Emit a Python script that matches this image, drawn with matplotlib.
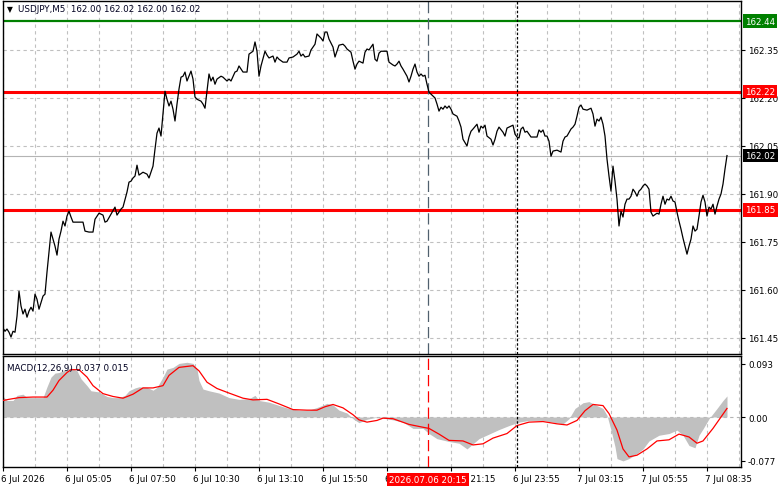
import matplotlib
matplotlib.use('Agg')
import matplotlib.pyplot as plt
import matplotlib.transforms as mtransforms

plt.rcParams['font.family'] = ['DejaVu Sans']

# price data: bar index (5 min bars from 6 Jul 00:00) and close price
price_bar = [
    0, 1, 2, 3, 4, 5, 6, 7, 8, 9, 10, 11, 12, 13, 14, 15, 16, 17, 18, 20,
    21, 22, 23, 24, 25, 26, 27, 28, 29, 30, 31, 32, 33, 34, 35, 37, 40, 41, 43, 45,
    46, 48, 50, 51, 52, 54, 56, 57, 59, 60, 62, 63, 64, 65, 66, 67, 68, 70, 72, 73,
    74, 75, 76, 77, 78, 79, 80, 81, 82, 83, 84, 85, 86, 87, 88, 89, 90, 91, 92, 94,
    95, 96, 97, 99, 100, 101, 102, 103, 104, 105, 106, 107, 109, 110, 112, 113, 114, 116, 117, 118,
    120, 122, 123, 125, 126, 127, 128, 129, 131, 132, 133, 135, 136, 137, 138, 140, 142, 143, 145, 147,
    148, 149, 150, 151, 153, 154, 156, 157, 159, 160, 161, 162, 163, 165, 166, 167, 168, 170, 171, 172,
    174, 175, 176, 177, 178, 180, 181, 182, 183, 184, 185, 186, 187, 188, 189, 192, 193, 195, 196, 197,
    198, 199, 200, 202, 203, 204, 205, 206, 207, 208, 209, 210, 211, 212, 213, 215, 216, 217, 218, 219,
    220, 221, 222, 223, 224, 225, 227, 228, 229, 230, 232, 233, 234, 235, 237, 238, 239, 240, 241, 242,
    244, 245, 246, 247, 248, 250, 251, 252, 254, 255, 256, 257, 258, 259, 260, 261, 262, 264, 267, 268,
    269, 270, 271, 272, 273, 274, 275, 277, 279, 280, 281, 282, 284, 285, 286, 287, 288, 289, 290, 292,
    294, 295, 296, 297, 298, 299, 300, 301, 302, 303, 304, 305, 306, 307, 308, 309, 310, 311, 312, 313,
    314, 315, 316, 317, 318, 319, 320, 321, 322, 323, 324, 325, 327, 328, 329, 330, 331, 332, 333, 334,
    335, 336, 337, 338, 339, 340, 341, 342, 343, 344, 345, 346, 347, 348, 349, 350, 351, 352, 353, 354,
    355, 356, 357, 358, 359, 360, 361, 362,
]
price_close = [
    161.481, 161.471, 161.478, 161.468, 161.453, 161.471, 161.468, 161.518, 161.596, 161.550,
    161.525, 161.540, 161.515, 161.534, 161.546, 161.534, 161.587, 161.571, 161.540, 161.581,
    161.587, 161.656, 161.718, 161.781, 161.759, 161.737, 161.709, 161.759, 161.784, 161.815,
    161.800, 161.831, 161.846, 161.828, 161.812, 161.812, 161.812, 161.784, 161.781, 161.781,
    161.821, 161.840, 161.834, 161.812, 161.815, 161.837, 161.859, 161.834, 161.853, 161.859,
    161.906, 161.937, 161.940, 161.950, 161.956, 161.990, 161.959, 161.968, 161.962, 161.950,
    161.968, 161.987, 162.040, 162.090, 162.106, 162.081, 162.150, 162.221, 162.196, 162.175,
    162.190, 162.165, 162.128, 162.181, 162.228, 162.265, 162.268, 162.281, 162.253, 162.284,
    162.259, 162.203, 162.196, 162.190, 162.181, 162.168, 162.221, 162.275, 162.253, 162.265,
    162.243, 162.259, 162.268, 162.265, 162.253, 162.259, 162.253, 162.281, 162.284, 162.300,
    162.281, 162.281, 162.337, 162.346, 162.375, 162.346, 162.268, 162.300, 162.346, 162.334,
    162.325, 162.331, 162.312, 162.328, 162.321, 162.312, 162.312, 162.325, 162.328, 162.337,
    162.346, 162.331, 162.337, 162.328, 162.331, 162.350, 162.368, 162.400, 162.387, 162.378,
    162.406, 162.406, 162.384, 162.359, 162.328, 162.346, 162.365, 162.368, 162.362, 162.353,
    162.343, 162.315, 162.290, 162.306, 162.315, 162.309, 162.343, 162.353, 162.350, 162.359,
    162.368, 162.321, 162.315, 162.340, 162.346, 162.346, 162.312, 162.303, 162.300, 162.306,
    162.315, 162.300, 162.290, 162.268, 162.250, 162.268, 162.290, 162.306, 162.281, 162.268,
    162.275, 162.268, 162.271, 162.243, 162.218, 162.206, 162.200, 162.181, 162.159, 162.171,
    162.165, 162.175, 162.168, 162.175, 162.165, 162.150, 162.143, 162.128, 162.109, 162.071,
    162.050, 162.078, 162.096, 162.103, 162.118, 162.093, 162.112, 162.106, 162.115, 162.081,
    162.071, 162.053, 162.071, 162.096, 162.109, 162.093, 162.081, 162.106, 162.112, 162.115,
    162.087, 162.078, 162.075, 162.103, 162.109, 162.093, 162.096, 162.078, 162.078, 162.100,
    162.093, 162.100, 162.081, 162.081, 162.065, 162.018, 162.034, 162.037, 162.031, 162.065,
    162.078, 162.081, 162.103, 162.109, 162.118, 162.143, 162.171, 162.178, 162.165, 162.162,
    162.168, 162.150, 162.112, 162.134, 162.128, 162.140, 162.118, 162.081, 162.009, 161.956,
    161.909, 161.987, 161.940, 161.884, 161.800, 161.846, 161.828, 161.868, 161.884, 161.884,
    161.893, 161.915, 161.906, 161.893, 161.909, 161.915, 161.925, 161.931, 161.925, 161.915,
    161.843, 161.831, 161.840, 161.837, 161.868, 161.893, 161.868, 161.884, 161.881, 161.893,
    161.878, 161.875, 161.843, 161.815, 161.790, 161.762, 161.737, 161.712, 161.737, 161.759,
    161.800, 161.784, 161.790, 161.831, 161.875, 161.896, 161.875, 161.831, 161.859, 161.853,
    161.868, 161.837, 161.862, 161.884, 161.900, 161.931, 161.978, 162.020,
]

# MACD(12,26,9) main (histogram) and signal
macd_bar = [
    0, 2, 5, 7, 10, 12, 20, 22, 24, 26, 28, 32, 34, 37, 39, 42, 44, 48, 52, 55,
    58, 61, 63, 66, 68, 72, 75, 77, 80, 82, 85, 88, 92, 95, 97, 98, 100, 103, 108, 113,
    118, 123, 126, 128, 133, 140, 143, 148, 153, 158, 162, 165, 168, 172, 175, 178, 182, 186, 190, 195,
    200, 205, 210, 213, 217, 223, 228, 232, 235, 238, 243, 248, 253, 258, 263, 270, 275, 280, 283, 286,
    290, 293, 297, 300, 302, 304, 306, 307, 310, 313, 317, 320, 323, 328, 333, 337, 340, 343, 346, 348,
    350, 353, 357, 360, 362,
]
macd_main = [
    0.036, 0.029, 0.029, 0.038, 0.040, 0.034, 0.034, 0.053, 0.070, 0.077,
    0.078, 0.084, 0.086, 0.081, 0.067, 0.055, 0.046, 0.044, 0.036, 0.034,
    0.034, 0.038, 0.046, 0.051, 0.053, 0.052, 0.047, 0.052, 0.070, 0.084,
    0.087, 0.094, 0.096, 0.094, 0.084, 0.064, 0.049, 0.046, 0.042, 0.034,
    0.031, 0.032, 0.038, 0.029, 0.026, 0.018, 0.015, 0.012, 0.012, 0.018,
    0.024, 0.021, 0.012, 0.007, -0.003, -0.010, -0.004, -0.001, -0.002, -0.005,
    -0.009, -0.020, -0.020, -0.029, -0.038, -0.043, -0.046, -0.056, -0.047, -0.038,
    -0.030, -0.022, -0.015, -0.009, -0.006, -0.006, -0.009, -0.012, -0.003, 0.015,
    0.025, 0.027, 0.020, 0.015, 0.003, -0.023, -0.052, -0.073, -0.077, -0.073,
    -0.064, -0.056, -0.042, -0.032, -0.029, -0.023, -0.032, -0.050, -0.054, -0.032,
    -0.021, -0.003, 0.015, 0.029, 0.037,
]
signal_bar = [
    0, 3, 8, 15, 22, 25, 28, 32, 34, 38, 42, 45, 50, 55, 60, 65, 70, 75, 80, 83,
    88, 95, 98, 102, 107, 113, 120, 125, 132, 138, 145, 152, 157, 161, 165, 170, 175, 178, 182, 187,
    190, 195, 203, 210, 213, 218, 223, 230, 235, 240, 245, 252, 257, 263, 270, 277, 282, 287, 291, 295,
    300, 303, 307, 310, 313, 317, 322, 327, 333, 338, 343, 347, 350, 355, 362,
]
signal_val = [
    0.029, 0.031, 0.034, 0.035, 0.035, 0.047, 0.064, 0.078, 0.083, 0.083,
    0.070, 0.055, 0.041, 0.036, 0.033, 0.040, 0.051, 0.051, 0.055, 0.073,
    0.087, 0.090, 0.081, 0.061, 0.050, 0.042, 0.033, 0.030, 0.031, 0.023,
    0.013, 0.012, 0.012, 0.018, 0.022, 0.016, 0.004, -0.005, -0.009, -0.006,
    -0.002, -0.003, -0.013, -0.018, -0.020, -0.030, -0.041, -0.042, -0.049, -0.047,
    -0.037, -0.029, -0.015, -0.009, -0.008, -0.012, -0.014, -0.006, 0.011, 0.022,
    0.020, 0.006, -0.023, -0.056, -0.070, -0.067, -0.056, -0.042, -0.040, -0.030,
    -0.035, -0.046, -0.042, -0.020, 0.015,
]

x_tick_labels = ['6 Jul 2026', '6 Jul 05:05', '6 Jul 07:50', '6 Jul 10:30', '6 Jul 13:10',
                 '6 Jul 15:50', '6 Jul 18:30', '6 Jul 21:15', '6 Jul 23:55', '7 Jul 03:15',
                 '7 Jul 05:55', '7 Jul 08:35']
price_ticks = [161.45, 161.60, 161.75, 161.90, 162.05, 162.20, 162.35]

resistance = 162.44
level_hi = 162.22
level_lo = 161.85
last_price = 162.02
cursor_bar = 212.5
cursor_label = '2026.07.06 20:15'
day_break_bar = 257

grid_kw = dict(color='#c0c0c0', linestyle=(0, (3, 3)), linewidth=0.8)

fig = plt.figure(figsize=(7.81, 4.89), dpi=100)
ax = fig.add_axes([3 / 781, 1 - 355 / 489, 738 / 781, 353 / 489])
ax2 = fig.add_axes([3 / 781, 1 - 468 / 489, 738 / 781, 111 / 489])

# main price pane
ax.set_xlim(0, 369)
ax.set_ylim(161.400, 162.503)
ax.set_xticks(range(0, 369, 16))
ax.set_yticks(price_ticks)
ax.set_yticklabels(['%.2f' % p for p in price_ticks])
ax.grid(True, **grid_kw)
ax.set_axisbelow(True)
ax.tick_params(axis='x', bottom=False, labelbottom=False)
ax.tick_params(axis='y', left=False, labelleft=False, right=True, labelright=True,
               length=3, pad=2, labelsize=6.3, width=0.8)

ax.axhline(last_price, color='#b4b4b4', lw=0.8, zorder=1)
ax.axhline(resistance, color='#008000', lw=1.6, zorder=2)
ax.axhline(level_hi, color='#ff0000', lw=2.2, zorder=2)
ax.axhline(level_lo, color='#ff0000', lw=2.2, zorder=2)
ax.axvline(cursor_bar, color='#50606e', lw=0.9, linestyle=(0, (9, 4)), zorder=2)
ax.axvline(day_break_bar, color='black', lw=0.9, linestyle=(0, (2, 1.5)), zorder=2)

ax.plot(price_bar, price_close, color='black', lw=0.9, zorder=3)

for val, bg, fg in [(resistance, '#008000', 'white'), (level_hi, '#ff0000', 'white'),
                    (last_price, 'black', 'white'), (level_lo, '#ff0000', 'white')]:
    ax.annotate('%.2f' % val, xy=(1, val), xycoords=('axes fraction', 'data'),
                xytext=(3, 0), textcoords='offset points', ha='left', va='center',
                fontsize=6.3, color=fg, annotation_clip=False, zorder=5,
                bbox=dict(boxstyle='square,pad=0.25', fc=bg, ec='none'))

ax.text(0.006, 0.978, '\u25bc', transform=ax.transAxes, fontsize=5.5, va='center', ha='left')
ax.text(0.021, 0.978, 'USDJPY,M5  162.00 162.02 162.00 162.02', transform=ax.transAxes,
        fontsize=6.3, va='center', ha='left', color='#000020')

for s in ax.spines.values():
    s.set_color('black')
    s.set_linewidth(1.0)

# MACD pane
ax2.set_xlim(0, 369)
ax2.set_ylim(-0.0877, 0.107)
ax2.set_xticks(range(0, 369, 32))
ax2.set_xticklabels(x_tick_labels, ha='left')
ax2.set_xticks(range(16, 369, 32), minor=True)
ax2.grid(True, axis='x', which='both', **grid_kw)
ax2.set_axisbelow(True)
ax2.tick_params(axis='x', which='major', length=3, pad=2, labelsize=6.3, width=0.8)
ax2.tick_params(axis='x', which='minor', length=0)
for lbl in ax2.get_xticklabels():
    lbl.set_x(lbl.get_position()[0])
offset = mtransforms.ScaledTranslation(-2 / 100, 0, fig.dpi_scale_trans)
for lbl in ax2.get_xticklabels():
    lbl.set_transform(lbl.get_transform() + offset)

ax2.set_yticks([0.093, 0.0, -0.077])
ax2.set_yticklabels(['0.093', '0.00', '-0.077'])
ax2.tick_params(axis='y', left=False, labelleft=False, right=True, labelright=True,
                length=3, pad=2, labelsize=6.3, width=0.8)

ax2.axhline(0, color='#b4b4b4', lw=0.8, linestyle=(0, (3, 3)), zorder=1)
ax2.fill_between(macd_bar, 0, macd_main, color='#c0c0c0', lw=0, zorder=2)
ax2.plot(signal_bar, signal_val, color='#ff0000', lw=0.9, zorder=3)
ax2.axvline(cursor_bar, color='#ff0000', lw=0.9, linestyle=(0, (9, 4)), zorder=4)
ax2.axvline(day_break_bar, color='black', lw=0.9, linestyle=(0, (2, 1.5)), zorder=4)

ax2.text(0.006, 0.90, 'MACD(12,26,9) 0.037 0.015', transform=ax2.transAxes,
         fontsize=6.3, va='center', ha='left', color='#000020')

ax2.annotate(cursor_label, xy=(cursor_bar, 0), xycoords=('data', 'axes fraction'),
             xytext=(0, -9), textcoords='offset points', ha='center', va='center',
             fontsize=6.3, color='white', annotation_clip=False, zorder=6,
             bbox=dict(boxstyle='square,pad=0.25', fc='#ff0000', ec='none'))

for s in ax2.spines.values():
    s.set_color('black')
    s.set_linewidth(1.0)

fig.savefig('out.png', dpi=100, facecolor='white')
